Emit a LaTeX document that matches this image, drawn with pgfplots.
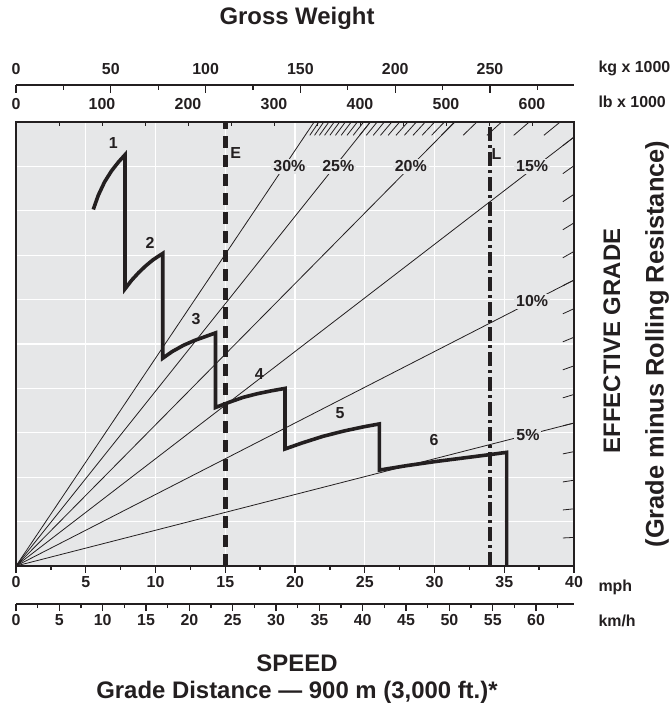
\documentclass[border=0pt]{standalone}
\usepackage{fontspec}
\setmainfont{Liberation Sans}
\usepackage{pgfplots}
\pgfplotsset{compat=1.18}
\definecolor{bgcol}{RGB}{230,231,232}
\definecolor{ink}{RGB}{35,31,32}
\newcommand\tk{\fontsize{16}{18}\selectfont\bfseries}
\newcommand\ttl{\fontsize{24}{28}\selectfont\bfseries}

\begin{document}
\begin{tikzpicture}[x=1bp,y=1bp]
% main chart: speed (mph) vs effective grade
\begin{axis}[
    at={(0bp,0bp)}, anchor=south west,
    scale only axis, width=558bp, height=444bp,
    xmin=0, xmax=40, ymin=0, ymax=10,
    axis background/.style={fill=bgcol},
    axis line style={ink, line width=1.5bp},
    xtick={0,5,...,40}, minor xtick={2.5,7.5,...,37.5},
    ytick={0,1,...,10}, yticklabels={}, ytick style={draw=none},
    xtick pos=bottom, tick align=outside,
    major tick length=7bp, minor tick length=4bp,
    xtick style={ink, line width=1.3bp},
    grid=major, major grid style={white, line width=1.1bp},
    /pgf/number format/assume math mode=true,
    xticklabel style={font=\tk, text=ink},
    clip=true,
]
% grade lines
\addplot[ink, line width=0.8bp] coordinates {(0,0) (40,3.22)};
\addplot[ink, line width=0.8bp] coordinates {(0,0) (40,6.44)};
\addplot[ink, line width=0.8bp] coordinates {(0,0) (40,9.66)};
\addplot[ink, line width=0.8bp] coordinates {(0,0) (31.45,10)};
\addplot[ink, line width=0.8bp] coordinates {(0,0) (25.40,10)};
\addplot[ink, line width=0.8bp] coordinates {(0,0) (21.37,10)};
% grade stubs on the right edge (1% .. 15%)
\addplot[ink, line width=0.8bp, unbounded coords=jump] table {
x y
39.2 0.631
40 0.644
nan nan
39.2 1.262
40 1.288
nan nan
39.2 1.893
40 1.932
nan nan
39.2 2.525
40 2.576
nan nan
39.2 3.156
40 3.220
nan nan
39.2 3.787
40 3.864
nan nan
39.2 4.418
40 4.508
nan nan
39.2 5.049
40 5.152
nan nan
39.2 5.680
40 5.796
nan nan
39.2 6.311
40 6.440
nan nan
39.2 6.942
40 7.084
nan nan
39.2 7.573
40 7.728
nan nan
39.2 8.204
40 8.372
nan nan
39.2 8.836
40 9.016
nan nan
39.2 9.467
40 9.660
};
% grade stubs on the top edge (16% .. 30%)
\addplot[ink, line width=0.8bp, unbounded coords=jump] table {
x y
37.84 9.7
39.01 10
nan nan
35.68 9.7
36.79 10
nan nan
33.76 9.7
34.81 10
nan nan
32.05 9.7
33.04 10
nan nan
30.50 9.7
31.45 10
nan nan
29.79 9.7
30.71 10
nan nan
29.11 9.7
30.01 10
nan nan
28.46 9.7
29.34 10
nan nan
27.84 9.7
28.70 10
nan nan
27.24 9.7
28.09 10
nan nan
26.68 9.7
27.50 10
nan nan
26.13 9.7
26.94 10
nan nan
25.61 9.7
26.40 10
nan nan
25.11 9.7
25.89 10
nan nan
24.63 9.7
25.40 10
nan nan
24.17 9.7
24.92 10
nan nan
23.73 9.7
24.47 10
nan nan
23.31 9.7
24.03 10
nan nan
22.90 9.7
23.61 10
nan nan
22.50 9.7
23.20 10
nan nan
22.12 9.7
22.81 10
nan nan
21.75 9.7
22.43 10
nan nan
21.40 9.7
22.06 10
nan nan
21.06 9.7
21.71 10
};
% percent labels
\node[fill=bgcol, inner sep=2bp, text=ink, font=\tk] at (axis cs:36.7,2.95) {5\%};
\node[fill=bgcol, inner sep=2bp, text=ink, font=\tk] at (axis cs:37.0,5.96) {10\%};
\node[fill=bgcol, inner sep=2bp, text=ink, font=\tk] at (axis cs:37.0,9.0) {15\%};
\node[fill=bgcol, inner sep=2bp, text=ink, font=\tk] at (axis cs:28.3,9.0) {20\%};
\node[fill=bgcol, inner sep=2bp, text=ink, font=\tk] at (axis cs:23.1,9.0) {25\%};
\node[fill=bgcol, inner sep=2bp, text=ink, font=\tk] at (axis cs:19.6,9.0) {30\%};
% E and L limit lines
\addplot[ink, line width=4.5bp, dash pattern=on 12bp off 7bp] coordinates {(15,0) (15,10)};
\addplot[ink, line width=4bp, dash pattern=on 14bp off 4bp on 3bp off 4bp] coordinates {(34,0) (34,10)};
\node[text=ink, font=\tk] at (axis cs:15.75,9.29) {E};
\node[text=ink, font=\tk] at (axis cs:34.45,9.27) {L};
% gear curve
\addplot[ink, line width=3.6bp, line join=miter] table {
x y
5.54 8.03
5.90 8.35
6.35 8.65
6.85 8.90
7.35 9.10
7.81 9.26
7.81 6.24
8.3 6.44
8.8 6.61
9.3 6.76
9.8 6.89
10.52 7.04
10.52 4.68
11.2 4.83
12.0 4.97
12.8 5.08
13.6 5.17
14.3 5.25
14.3 3.57
15.3 3.69
16.3 3.80
17.3 3.88
18.3 3.945
19.28 4.00
19.28 2.635
20.5 2.77
22.0 2.92
23.5 3.04
25.0 3.14
26.05 3.20
26.05 2.16
28 2.26
30 2.35
32 2.43
34 2.51
35.17 2.56
35.17 0
};
\node[text=ink, font=\tk] at (axis cs:6.98,9.52) {1};
\node[text=ink, font=\tk] at (axis cs:9.61,7.27) {2};
\node[text=ink, font=\tk] at (axis cs:12.90,5.56) {3};
\node[text=ink, font=\tk] at (axis cs:17.44,4.32) {4};
\node[text=ink, font=\tk] at (axis cs:23.23,3.45) {5};
\node[text=ink, font=\tk] at (axis cs:29.96,2.84) {6};
\end{axis}

% lb scale: inside ticks on the plot top edge, labels above
\begin{axis}[
    at={(0bp,0bp)}, anchor=south west,
    scale only axis, width=558bp, height=444bp,
    xmin=0, xmax=648.8, ymin=0, ymax=1,
    axis y line=none, axis x line=top, axis line style={draw=none,-},
    xtick={0,50,...,600}, xticklabels={0,,100,,200,,300,,400,,500,,600},
    tick align=inside, major tick length=4bp,
    xtick style={ink, line width=1bp},
    /pgf/number format/assume math mode=true,
    xticklabel style={font=\tk, text=ink, yshift=9bp},
]
\end{axis}

% kg scale
\begin{axis}[
    at={(0bp,480bp)}, anchor=south west,
    scale only axis, width=558bp, height=1bp,
    xmin=0, xmax=294.3, ymin=0, ymax=1,
    axis y line=none, axis x line=top, axis line style={ink, line width=1.5bp, -},
    xtick={0,50,...,250}, minor xtick={25,75,...,275},
    tick align=inside, major tick length=8bp, minor tick length=5bp,
    xtick style={ink, line width=1.2bp},
    /pgf/number format/assume math mode=true,
    xticklabel style={font=\tk, text=ink, yshift=7bp},
]
\end{axis}

% km/h scale
\begin{axis}[
    at={(0bp,-38bp)}, anchor=south west,
    scale only axis, width=558bp, height=1bp,
    xmin=0, xmax=64.374, ymin=0, ymax=1,
    axis y line=none, axis x line=bottom, axis line style={ink, line width=1.5bp, -},
    xtick={0,5,...,60}, minor xtick={2.5,7.5,...,62.5},
    tick align=outside, major tick length=7bp, minor tick length=4bp,
    xtick style={ink, line width=1.2bp},
    /pgf/number format/assume math mode=true,
    xticklabel style={font=\tk, text=ink},
]
\end{axis}

\node[font=\ttl, text=ink] at (281,548) {Gross Weight};
\node[font=\tk, text=ink, anchor=west] at (579,498) {kg x 1000};
\node[font=\tk, text=ink, anchor=west] at (579,464) {lb x 1000};
\node[font=\tk, text=ink, anchor=west] at (579,-21) {mph};
\node[font=\tk, text=ink, anchor=west] at (579,-55) {km/h};
\node[font=\ttl, text=ink] at (281,-97) {SPEED};
\node[font=\ttl, text=ink] at (281,-126) {Grade Distance — 900 m (3,000 ft.)*};
\node[font=\ttl, text=ink, rotate=90] at (596,225) {EFFECTIVE GRADE};
\node[font=\fontsize{25.5}{28}\selectfont\bfseries, text=ink, rotate=90] at (641,222) {(Grade minus Rolling Resistance)};

\pgfresetboundingbox
\path[use as bounding box] (-16,-147) rectangle (655,566);
\end{tikzpicture}
\end{document}
